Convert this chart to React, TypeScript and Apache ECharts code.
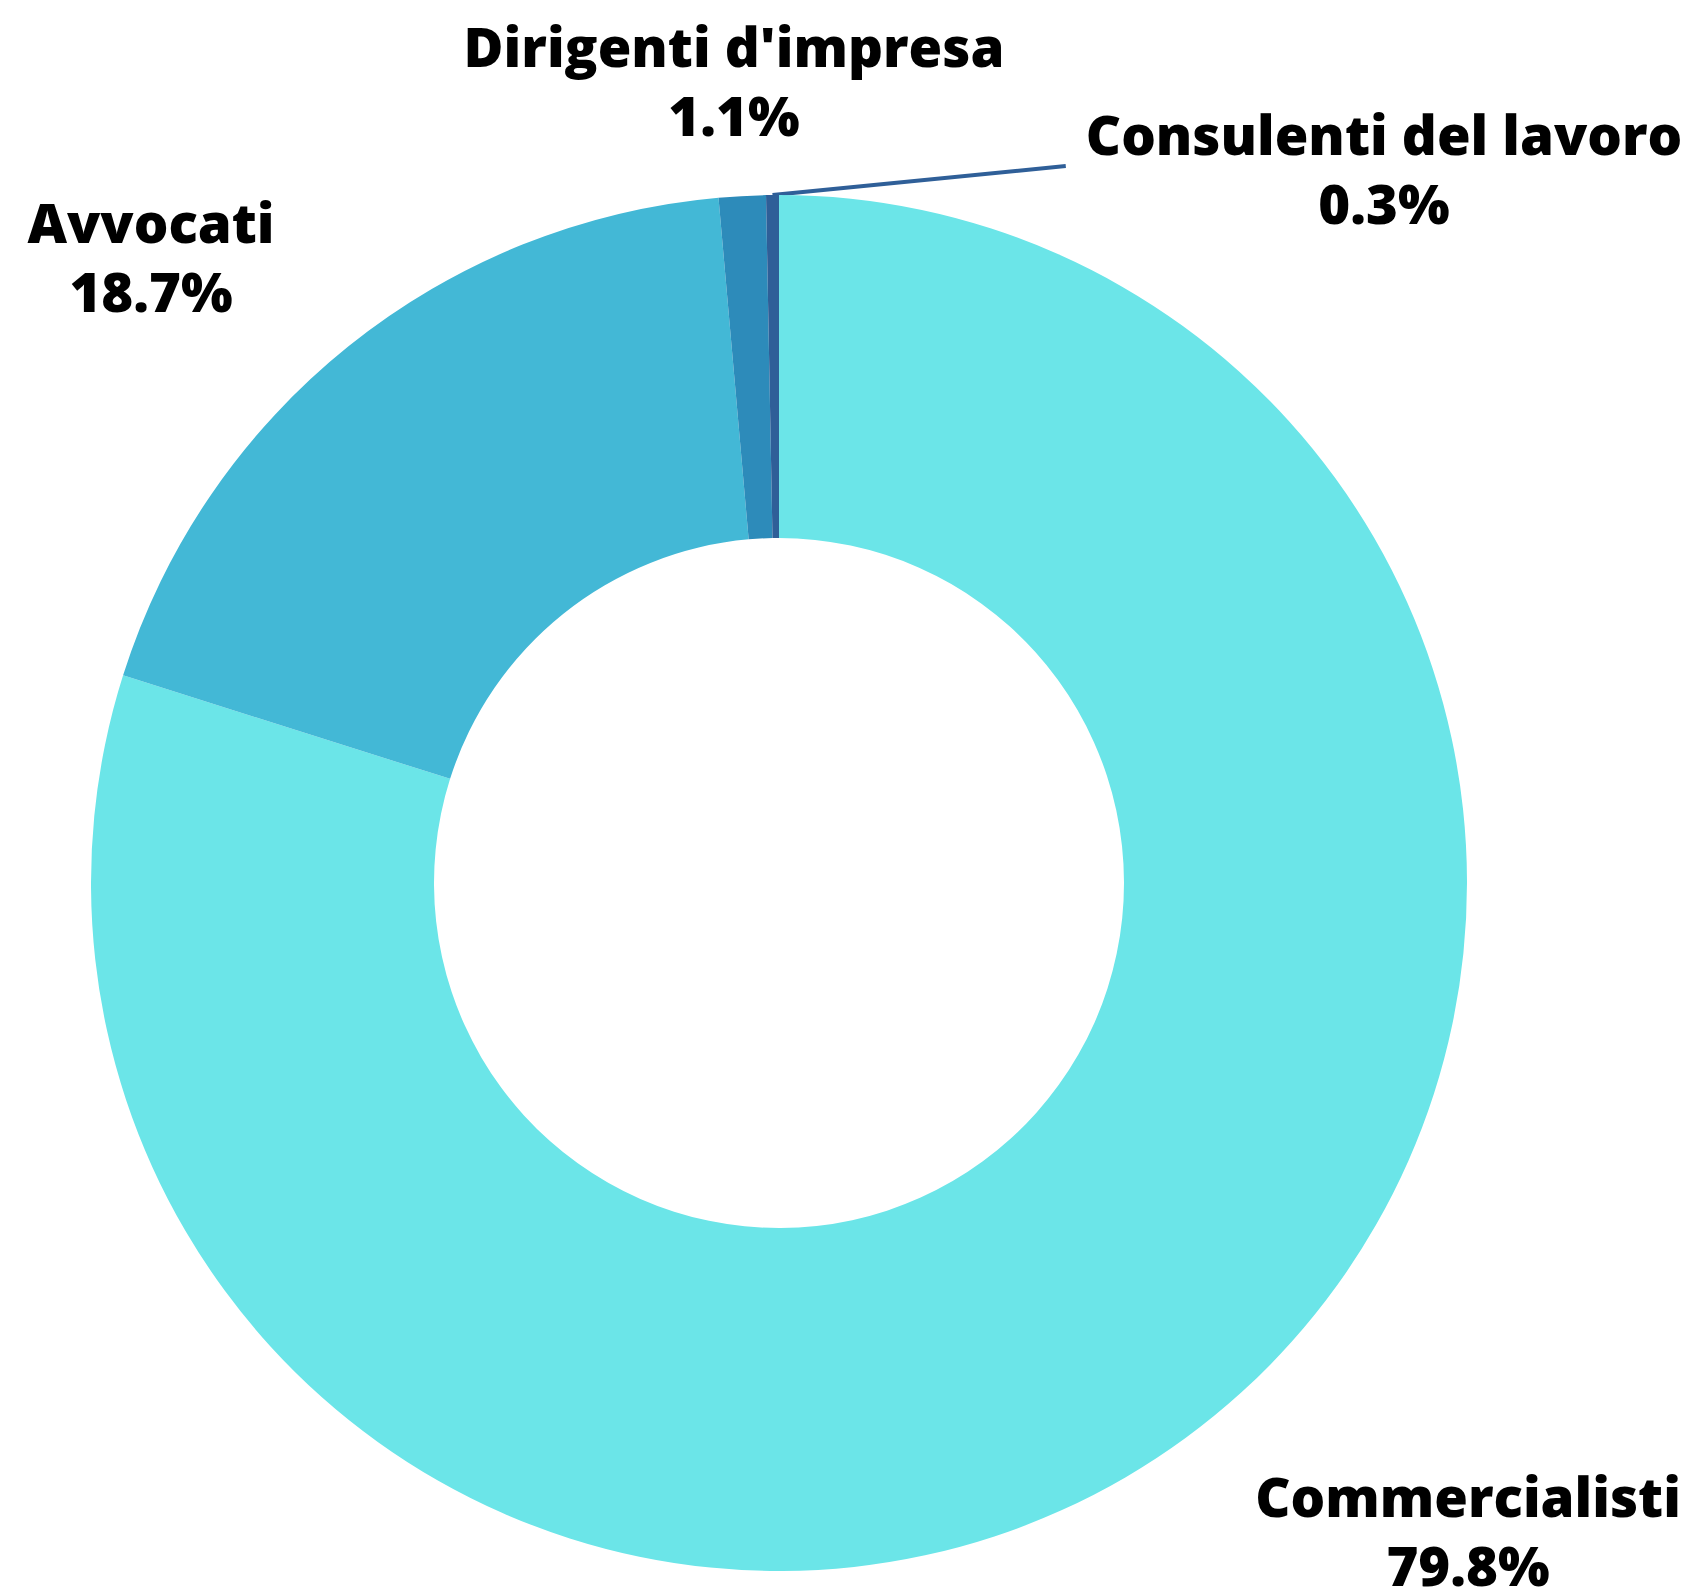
import React, { useEffect, useRef } from "react";
import * as echarts from "echarts";

const categories = ["Commercialisti", "Avvocati", "Dirigenti d'impresa", "Consulenti del lavoro"];
const values = [79.8, 18.7, 1.1, 0.3];
const colors = ["#6be5e8", "#43b8d6", "#2d8bba", "#2f5f98"];

// label block centres (style only)
const labelCenters: [number, number][] = [
  [1468, 1530],
  [151, 256],
  [734, 80],
  [1384, 168],
];

const CX = 779;
const CY = 883;
const R_OUT = 688;
const R_IN = 345;

export default function App() {
  const ref = useRef<HTMLDivElement>(null);
  useEffect(() => {
    document.body.style.margin = "0";
    const chart = echarts.init(ref.current!, undefined, { renderer: "svg" });
    const data = categories.map((name, i) => ({
      name,
      value: values[i],
      itemStyle: { color: colors[i] },
      labelLine: i === 3 ? { show: true, lineStyle: { color: colors[3], width: 4 } } : { show: false },
    }));
    chart.setOption({
      animation: false,
      backgroundColor: "#ffffff",
      series: [
        {
          type: "pie",
          center: [CX, CY],
          radius: [R_IN, R_OUT],
          startAngle: 90,
          clockwise: true,
          avoidLabelOverlap: false,
          data,
          itemStyle: { borderWidth: 0 },
          label: {
            show: true,
            position: "outside",
            formatter: (p: any) => `${p.name}\n${Number(p.value).toFixed(1)}%`,
            fontFamily: "Open Sans",
            fontWeight: 800,
            fontSize: 54.5,
            lineHeight: 69,
            color: "#000000",
            align: "center",
          },
          labelLayout: (params: any) => {
            const i = params.dataIndex;
            const [x, y] = labelCenters[i];
            const out: any = { x, y, align: "center", verticalAlign: "middle" };
            if (i === 3) {
              const rect = params.labelRect;
              const w = rect ? rect.width : 590;
              const total = values.reduce((a, b) => a + b, 0);
              const before = values.slice(0, 3).reduce((a, b) => a + b, 0);
              const mid = ((before + values[3] / 2) / total) * 2 * Math.PI;
              const ax = CX + R_OUT * Math.sin(mid);
              const ay = CY - R_OUT * Math.cos(mid);
              const ex = x - w / 2 - 20;
              const ey = y - 2;
              out.labelLinePoints = [
                [ax, ay],
                [ex, ey],
                [ex, ey],
              ];
            }
            return out;
          },
        },
      ],
    });
    return () => chart.dispose();
  }, []);
  return <div ref={ref} style={{ width: 1692, height: 1590 }} />;
}
